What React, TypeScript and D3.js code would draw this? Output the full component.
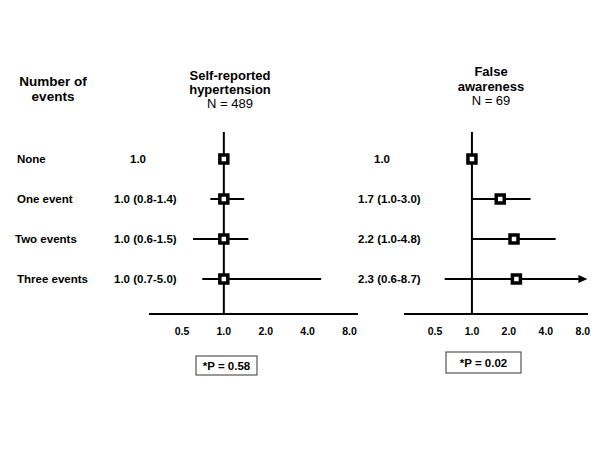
import React from "react";
import * as d3 from "d3";

const rowLabels = ["None", "One event", "Two events", "Three events"];

const hyperOR = [1.0, 1.0, 1.0, 1.0];
const hyperLo: (number | null)[] = [null, 0.8, 0.6, 0.7];
const hyperHi: (number | null)[] = [null, 1.4, 1.5, 5.0];
const hyperText = ["1.0", "1.0 (0.8-1.4)", "1.0 (0.6-1.5)", "1.0 (0.7-5.0)"];

const falseOR = [1.0, 1.7, 2.2, 2.3];
const falseLo: (number | null)[] = [null, 1.0, 1.0, 0.6];
const falseHi: (number | null)[] = [null, 3.0, 4.8, 8.7];
const falseText = ["1.0", "1.7 (1.0-3.0)", "2.2 (1.0-4.8)", "2.3 (0.6-8.7)"];

const tickValues = [0.5, 1, 2, 4, 8];
const tickLabels = ["0.5", "1.0", "2.0", "4.0", "8.0"];

const hyperTitle = ["Self-reported", "hypertension", "N = 489"];
const falseTitle = ["False", "awareness", "N = 69"];
const pLabels = ["*P = 0.58", "*P = 0.02"];
const headLines = ["Number of", "events"];

const FONT = "'Liberation Sans', Arial, Helvetica, sans-serif";

type PanelProps = {
  x: d3.ScaleLogarithmic<number, number>;
  y: d3.ScalePoint<string>;
  or: number[];
  lo: (number | null)[];
  hi: (number | null)[];
  text: string[];
  textX: number;
  title: string[];
  titleX: number;
  titleY: number[];
  pLabel: string;
  pBox: { x: number; y: number; w: number; h: number };
  axisY: number;
};

function Panel(p: PanelProps) {
  const { x, y } = p;
  const [d0, d1] = x.domain();
  const lastTick = tickValues[tickValues.length - 1];
  const top = (y(rowLabels[0]) as number) - 27;
  return (
    <g>
      {p.title.map((t, i) => (
        <text
          key={t}
          x={p.titleX}
          y={p.titleY[i]}
          textAnchor="middle"
          fontSize={13}
          fontWeight={i < 2 ? "bold" : "normal"}
          fontFamily={FONT}
        >
          {t}
        </text>
      ))}
      <line x1={x(1)} x2={x(1)} y1={top} y2={p.axisY} stroke="#000" strokeWidth={2} />
      <line x1={x(d0)} x2={x(d1)} y1={p.axisY} y2={p.axisY} stroke="#000" strokeWidth={2} />
      {tickValues.map((v, i) => (
        <text
          key={v}
          x={x(v)}
          y={p.axisY + 21}
          textAnchor="middle"
          fontSize={10.5}
          fontWeight="bold"
          fontFamily={FONT}
        >
          {tickLabels[i]}
        </text>
      ))}
      {rowLabels.map((r, i) => {
        const cy = y(r) as number;
        const lo = p.lo[i];
        const hi = p.hi[i];
        const hasCI = lo !== null && hi !== null;
        const arrow = hasCI && (hi as number) > lastTick;
        const xHi = hasCI ? x(Math.min(hi as number, d1)) : 0;
        return (
          <g key={r}>
            <text
              x={hasCI ? p.textX : p.textX + 16}
              y={cy + 4}
              fontSize={11.5}
              fontWeight="bold"
              fontFamily={FONT}
            >
              {p.text[i]}
            </text>
            {hasCI && (
              <line
                x1={x(lo as number)}
                x2={arrow ? xHi - 6 : xHi}
                y1={cy}
                y2={cy}
                stroke="#000"
                strokeWidth={2}
              />
            )}
            {arrow && (
              <path
                d={`M${xHi},${cy} L${xHi - 9},${cy - 4} L${xHi - 9},${cy + 4} Z`}
                fill="#000"
              />
            )}
            <rect
              x={x(p.or[i]) - 4}
              y={cy - 4}
              width={8}
              height={8}
              fill="#fff"
              stroke="#000"
              strokeWidth={3.5}
            />
          </g>
        );
      })}
      <rect
        x={p.pBox.x}
        y={p.pBox.y}
        width={p.pBox.w}
        height={p.pBox.h}
        fill="#fff"
        stroke="#333"
        strokeWidth={1}
      />
      <text
        x={p.pBox.x + p.pBox.w / 2}
        y={p.pBox.y + p.pBox.h / 2 + 4}
        textAnchor="middle"
        fontSize={11.5}
        fontWeight="bold"
        fontFamily={FONT}
      >
        {p.pLabel}
      </text>
    </g>
  );
}

export default function App() {
  const y = d3.scalePoint<string>().domain(rowLabels).range([159, 279]);
  const xLeft = d3.scaleLog().domain([0.29, 9.2]).range([149, 358]);
  const xRight = d3.scaleLog().domain([0.28, 8.8]).range([404, 588]);
  const axisY = 314;

  return (
    <svg
      width={600}
      height={450}
      style={{ position: "absolute", left: 0, top: 0, background: "#fff" }}
    >
      <rect width={600} height={450} fill="#fff" />
      {headLines.map((t, i) => (
        <text
          key={t}
          x={53}
          y={86 + i * 15}
          textAnchor="middle"
          fontSize={13.5}
          fontWeight="bold"
          fontFamily={FONT}
        >
          {t}
        </text>
      ))}
      {rowLabels.map((r) => (
        <text
          key={r}
          x={r === "Two events" ? 15 : 17}
          y={(y(r) as number) + 4}
          fontSize={11.5}
          fontWeight="bold"
          fontFamily={FONT}
        >
          {r}
        </text>
      ))}
      <Panel
        x={xLeft}
        y={y}
        or={hyperOR}
        lo={hyperLo}
        hi={hyperHi}
        text={hyperText}
        textX={114}
        title={hyperTitle}
        titleX={230}
        titleY={[80, 94, 108]}
        pLabel={pLabels[0]}
        pBox={{ x: 196, y: 356, w: 61, h: 19 }}
        axisY={axisY}
      />
      <Panel
        x={xRight}
        y={y}
        or={falseOR}
        lo={falseLo}
        hi={falseHi}
        text={falseText}
        textX={358}
        title={falseTitle}
        titleX={491}
        titleY={[76, 91, 105]}
        pLabel={pLabels[1]}
        pBox={{ x: 446, y: 352, w: 75, h: 21 }}
        axisY={axisY}
      />
    </svg>
  );
}
